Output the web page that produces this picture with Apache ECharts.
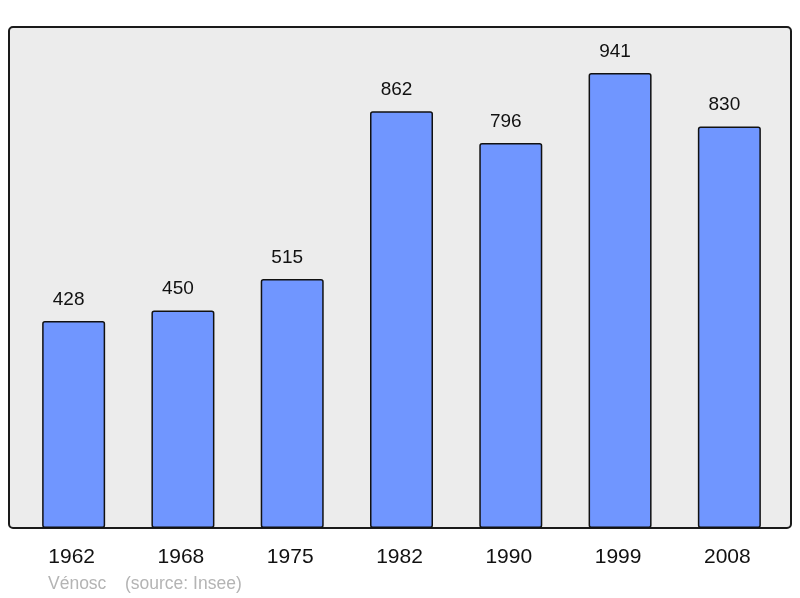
<!DOCTYPE html>
<html>
<head>
<meta charset="utf-8">
<script src="https://cdn.jsdelivr.net/npm/echarts@6/dist/echarts.min.js"></script>
<style>
  html, body { margin: 0; padding: 0; background: #fff; }
  #chart { width: 800px; height: 598px; }
</style>
</head>
<body>
<div id="chart"></div>
<script>
// 人口数据
const years = ['1962', '1968', '1975', '1982', '1990', '1999', '2008'];
const population = [428, 450, 515, 862, 796, 941, 830];
const placeName = 'Vénosc';
const sourceText = '(source: Insee)';

const myChart = echarts.init(document.getElementById('chart'), null, { renderer: 'canvas' });

const footerFont = '17.5px "Liberation Sans", Arial, sans-serif';

const option = {
  animation: false,
  textStyle: { fontFamily: 'Liberation Sans, Arial, sans-serif' },
  graphic: [
    {
      // 背景框
      type: 'rect',
      z: -10,
      shape: { x: 9, y: 27, width: 782, height: 501, r: 4 },
      style: { fill: '#ececec', stroke: '#1a1a1a', lineWidth: 2 }
    },
    {
      type: 'text',
      x: 48,
      y: 584,
      style: { text: placeName, fill: '#b4b4b4', font: footerFont, textVerticalAlign: 'middle' }
    },
    {
      type: 'text',
      x: 125,
      y: 584,
      style: { text: sourceText, fill: '#b4b4b4', font: footerFont, textVerticalAlign: 'middle' }
    }
  ],
  grid: {
    left: 19,
    width: 765,
    top: 27,
    bottom: 70
  },
  xAxis: {
    type: 'category',
    data: years,
    axisLine: { show: false },
    axisTick: { show: false },
    axisLabel: {
      color: '#111',
      fontSize: 21,
      margin: 19,
      padding: [0, 4, 0, 0]
    }
  },
  yAxis: {
    type: 'value',
    min: 0,
    max: 1036,
    show: false,
    splitLine: { show: false }
  },
  series: [
    {
      type: 'bar',
      data: population,
      barWidth: 63,
      itemStyle: {
        color: '#7096ff',
        borderColor: '#111',
        borderWidth: 1.5,
        borderRadius: 2
      },
      label: {
        show: true,
        position: 'top',
        distance: 12,
        offset: [-5, 0],
        color: '#111',
        fontSize: 19
      }
    }
  ]
};

myChart.setOption(option, true);
window.addEventListener('resize', function() {
  myChart.resize();
});
</script>
</body>
</html>
